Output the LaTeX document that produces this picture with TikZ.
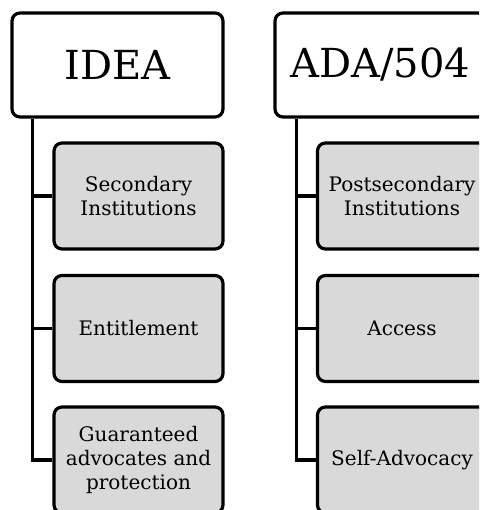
\documentclass[tikz,border=0pt]{standalone}
\usepackage{fontspec}
\setmainfont{DejaVu Serif}
\usepackage{tikz}

\begin{document}
\begin{tikzpicture}[x=1pt,y=1pt,
  law/.style={draw=black,line width=3.2pt,rounded corners=8pt,fill=white,
    minimum width=211pt,minimum height=104pt,inner sep=0pt,
    font=\fontsize{40}{44}\selectfont},
  item/.style={draw=black,line width=3.2pt,rounded corners=8pt,fill=black!15,
    minimum width=169pt,minimum height=106pt,inner sep=0pt,align=center,
    font=\fontsize{20}{24}\selectfont},
  trunk/.style={draw=black,line width=3.4pt}]
\useasboundingbox (0,0) rectangle (479,-510);
\clip (0,0) rectangle (479,-510);
% left column
\node [law] (idea) at (117.5,-65) {IDEA};
\node [item] (idea1) at (138.5,-196) {Secondary\\Institutions};
\node [item] (idea2) at (138.5,-328.5) {Entitlement};
\node [item] (idea3) at (138.5,-460) {Guaranteed\\advocates and\\protection};
\coordinate (ideatr) at ([xshift=22pt]idea.south west);
\draw [trunk] (ideatr) |- (idea3.west);
\draw [trunk] (ideatr |- idea1.west) -- (idea1.west);
\draw [trunk] (ideatr |- idea2.west) -- (idea2.west);
% right column
\node [law] (ada) at (380.5,-65) {ADA/504};
\node [item] (ada1) at (402,-196) {Postsecondary\\Institutions};
\node [item] (ada2) at (402,-328.5) {Access};
\node [item] (ada3) at (402,-460) {Self-Advocacy};
\coordinate (adatr) at ([xshift=23pt]ada.south west);
\draw [trunk] (adatr) |- (ada3.west);
\draw [trunk] (adatr |- ada1.west) -- (ada1.west);
\draw [trunk] (adatr |- ada2.west) -- (ada2.west);
\end{tikzpicture}
\end{document}
